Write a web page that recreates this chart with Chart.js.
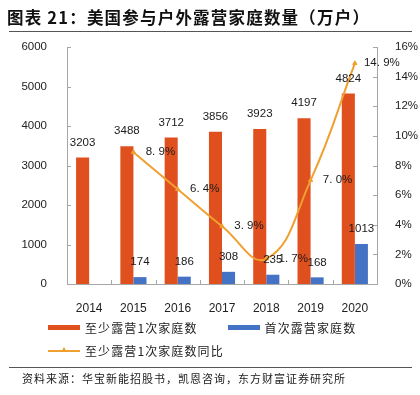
<!DOCTYPE html>
<html>
<head>
<meta charset="utf-8">
<script src="https://cdn.jsdelivr.net/npm/chart.js@4.4.1/dist/chart.umd.min.js"></script>
<style>
  body { margin: 0; background: #fff; }
  #page { position: relative; width: 420px; height: 395px; overflow: hidden; font-family: "Noto Sans CJK SC", sans-serif; }
  #myChart { position: absolute; left: 0; top: 0; }
  #title { position: absolute; left: 7px; top: 5px; font-size: 16.5px; font-weight: bold; color: #111; letter-spacing: 1.2px; white-space: nowrap; }
  .rule { position: absolute; left: 9px; width: 403px; border-top: 1.5px solid #555; }
  #legend { position: absolute; left: 48px; top: 316px; font-size: 12px; color: #222; letter-spacing: 1.1px; }
  .row { height: 23px; display: flex; align-items: center; }
  .item { display: flex; align-items: center; margin-right: 30px; }
  .sw { width: 32px; height: 5px; margin-right: 5px; position: relative; }
  .sw.line { height: 2px; }
  .tri { position: absolute; left: 13px; top: -3px; width: 0; height: 0; border-left: 3px solid transparent; border-right: 3px solid transparent; border-bottom: 5px solid #F0A030; }
  #src { position: absolute; left: 22px; top: 370px; font-size: 11px; color: #222; letter-spacing: 1px; white-space: nowrap; }
</style>
</head>
<body>
<div id="page">
  <canvas id="myChart" width="420" height="395"></canvas>
  <div id="title">图表 21：美国参与户外露营家庭数量（万户）</div>
  <div class="rule" style="top:31px"></div>
  <div id="legend"></div>
  <div class="rule" style="top:367px;border-top-width:1px"></div>
  <div id="src">资料来源：华宝新能招股书，凯恩咨询，东方财富证券研究所</div>
</div>
<script>
const years = ['2014', '2015', '2016', '2017', '2018', '2019', '2020'];
const atLeastOnce = [3203, 3488, 3712, 3856, 3923, 4197, 4824];
const firstTime = [null, 174, 186, 308, 235, 168, 1013];
const growth = [null, 8.9, 6.4, 3.9, 1.7, 7.0, 14.9];
const leftTicks = [0, 1000, 2000, 3000, 4000, 5000, 6000];
const rightTicks = [0, 2, 4, 6, 8, 10, 12, 14, 16];

const orange = '#E04F1E';
const blue = '#4472C4';
const lineColor = '#F0A030';
const axisGrey = '#A6A6A6';

// value labels above bars and beside line points
const valueLabels = {
    id: 'valueLabels',
    afterDraw(chart) {
        const ctx = chart.ctx;
        ctx.save();
        ctx.font = '11.5px "Liberation Sans", Arial, sans-serif';
        ctx.fillStyle = '#1a1a1a';
        ctx.textAlign = 'center';
        ctx.textBaseline = 'middle';
        [atLeastOnce, firstTime].forEach((arr, di) => {
            chart.getDatasetMeta(di).data.forEach((bar, i) => {
                if (arr[i] == null) return;
                ctx.fillText(String(arr[i]), bar.x, bar.y - 15);
            });
        });
        chart.getDatasetMeta(2).data.forEach((pt, i) => {
            if (growth[i] == null) return;
            ctx.fillText(growth[i].toFixed(1).replace('.', '. ') + '%', pt.x + 27, pt.y);
        });
        ctx.restore();
    }
};

// short tick marks pointing into the plot
const innerTicks = {
    id: 'innerTicks',
    afterDraw(chart) {
        const { ctx, chartArea: a, scales } = chart;
        ctx.save();
        ctx.strokeStyle = axisGrey;
        ctx.lineWidth = 1;
        ctx.beginPath();
        scales.y.ticks.forEach((t, i) => {
            const y = Math.round(scales.y.getPixelForTick(i)) + 0.5;
            ctx.moveTo(a.left, y); ctx.lineTo(a.left + 4, y);
        });
        scales.y1.ticks.forEach((t, i) => {
            const y = Math.round(scales.y1.getPixelForTick(i)) + 0.5;
            ctx.moveTo(a.right, y); ctx.lineTo(a.right - 4, y);
        });
        const step = (a.right - a.left) / years.length;
        for (let i = 0; i <= years.length; i++) {
            const x = Math.round(a.left + i * step) + 0.5;
            ctx.moveTo(x, a.bottom); ctx.lineTo(x, a.bottom - 4);
        }
        ctx.stroke();
        ctx.restore();
    }
};

const tickFont = { family: '"Liberation Sans", Arial, sans-serif', size: 11.5 };

const ctx = document.getElementById('myChart').getContext('2d');
const myChart = new Chart(ctx, {
    type: 'bar',
    data: {
        labels: years,
        datasets: [{
            label: '至少露营1次家庭数',
            data: atLeastOnce,
            backgroundColor: orange,
            categoryPercentage: 0.59,
            barPercentage: 1,
            yAxisID: 'y',
            order: 1
        }, {
            label: '首次露营家庭数',
            data: firstTime,
            backgroundColor: blue,
            categoryPercentage: 0.59,
            barPercentage: 1,
            yAxisID: 'y',
            order: 1
        }, {
            type: 'line',
            label: '至少露营1次家庭数同比',
            data: growth,
            borderColor: lineColor,
            backgroundColor: lineColor,
            borderWidth: 2,
            tension: 0.45,
            pointStyle: 'triangle',
            pointRadius: 2.5,
            pointBorderWidth: 1,
            yAxisID: 'y1',
            order: 0
        }]
    },
    plugins: [innerTicks, valueLabels],
    options: {
        responsive: false,
        animation: false,
        layout: { padding: { top: 47, left: 0, right: 0, bottom: 0 } },
        plugins: { legend: { display: false }, tooltip: { enabled: false } },
        scales: {
            x: {
                grid: { display: false },
                border: { color: axisGrey },
                ticks: { font: { family: tickFont.family, size: 12 }, color: '#222', padding: 9 },
                afterFit(s) { s.height = 111; }
            },
            y: {
                position: 'left',
                min: 0, max: 6000,
                afterBuildTicks(s) { s.ticks = leftTicks.map(v => ({ value: v })); },
                grid: { display: false },
                border: { color: axisGrey },
                ticks: { font: tickFont, color: '#222', padding: 12, callback: v => String(v) },
                afterFit(s) { s.width = 67; }
            },
            y1: {
                position: 'right',
                min: 0, max: 16,
                afterBuildTicks(s) { s.ticks = rightTicks.map(v => ({ value: v })); },
                grid: { display: false },
                border: { color: axisGrey },
                ticks: { font: tickFont, color: '#222', padding: 10, callback: v => v + '%' },
                afterFit(s) { s.width = 43; }
            }
        }
    }
});

// html legend from the datasets
const legend = document.getElementById('legend');
const rows = [[0, 1], [2]];
rows.forEach(r => {
    const row = document.createElement('div');
    row.className = 'row';
    r.forEach(di => {
        const ds = myChart.data.datasets[di];
        const item = document.createElement('div');
        item.className = 'item';
        const sw = document.createElement('span');
        sw.className = 'sw' + (ds.type === 'line' ? ' line' : '');
        sw.style.background = ds.type === 'line' ? ds.borderColor : ds.backgroundColor;
        if (ds.type === 'line') {
            const tri = document.createElement('span');
            tri.className = 'tri';
            sw.appendChild(tri);
        }
        const txt = document.createElement('span');
        txt.textContent = ds.label;
        item.appendChild(sw);
        item.appendChild(txt);
        row.appendChild(item);
    });
    legend.appendChild(row);
});
</script>
</body>
</html>
